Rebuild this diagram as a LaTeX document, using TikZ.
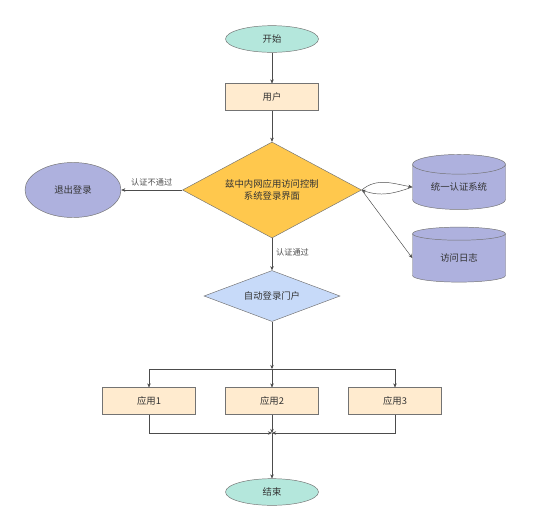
\documentclass[tikz,border=0pt]{standalone}
\usepackage{fontspec}
\setmainfont{Noto Sans CJK SC}
\usetikzlibrary{shapes.geometric, arrows.meta, calc, positioning}

\definecolor{termfill}{HTML}{B4E7DC}
\definecolor{boxfill}{HTML}{FFEBCF}
\definecolor{gatefill}{HTML}{FFC84D}
\definecolor{portalfill}{HTML}{C7DAF9}
\definecolor{dbfill}{HTML}{AEB1DE}

\begin{document}
\begin{tikzpicture}[
    x=0.03cm, y=-0.03cm,
    every node/.style={font=\fontsize{8}{10}\selectfont, text=black!80},
    termnode/.style={ellipse, draw=black!55, fill=termfill, minimum width=2.79cm, minimum height=0.8cm, inner sep=0pt},
    boxnode/.style={draw=black!55, fill=boxfill, minimum width=2.79cm, minimum height=0.8cm, inner sep=0pt},
    gatenode/.style={diamond, aspect=1.86, draw=black!55, fill=gatefill, minimum width=5.37cm, minimum height=2.88cm, inner sep=0pt, align=center},
    portalnode/.style={diamond, aspect=2.67, draw=black!55, fill=portalfill, minimum width=4.08cm, minimum height=1.53cm, inner sep=0pt},
    dbnode/.style={cylinder, shape border rotate=90, aspect=0.35, draw=black!55, fill=dbfill, minimum width=2.79cm, minimum height=1.65cm, inner sep=0pt},
    exitnode/.style={ellipse, draw=black!55, fill=dbfill, minimum width=2.88cm, minimum height=1.65cm, inner sep=0pt},
    tag/.style={font=\fontsize{7}{8}\selectfont, text=black!70},
    arr/.style={-{Stealth[length=3.5pt,width=3pt]}, draw=black!70}
]
\useasboundingbox (0,0) rectangle (554,523);

\node[termnode] (start) at (272,39) {开始};
\node[boxnode] (user) at (272,97) {用户};
\node[gatenode] (gate) at (272,190) {兹中内网应用访问控制\\系统登录界面};
\node[exitnode] (exit) at (73,190) {退出登录};
\node[dbnode] (auth) at (459,187) {统一认证系统};
\node[dbnode] (log) at (459,258) {访问日志};
\node[portalnode] (portal) at (272,296) {自动登录门户};

\node[boxnode] (app1) at (149,401) {应用1};
\node[boxnode] (app2) at (272,401) {应用2};
\node[boxnode] (app3) at (395,401) {应用3};
\node[termnode] (end) at (272,492) {结束};

\coordinate (split) at (272,369);
\coordinate (merge) at (272,433);

\draw[arr] (start) -- (user);
\draw[arr] (user) -- (gate);
\draw[arr] (gate) -- node[tag, above] {认证不通过} (exit);
\draw[arr] (gate.east) to[out=40, in=170] (auth.west);
\draw[arr] (auth.west) to[out=200, in=-20] (gate.east);
\draw[arr] (gate.east) -- (log.west);
\draw[arr] (gate) -- node[tag, right, pos=0.45] {认证通过} (portal);

\draw[arr] (portal) -- (split);
\draw[arr] (split) -| (app1);
\draw[arr] (split) -- (app2);
\draw[arr] (split) -| (app3);

\draw[arr] (app1) |- (merge);
\draw[arr] (app2) -- (merge);
\draw[arr] (app3) |- (merge);
\draw[arr] (merge) -- (end);
\end{tikzpicture}
\end{document}
